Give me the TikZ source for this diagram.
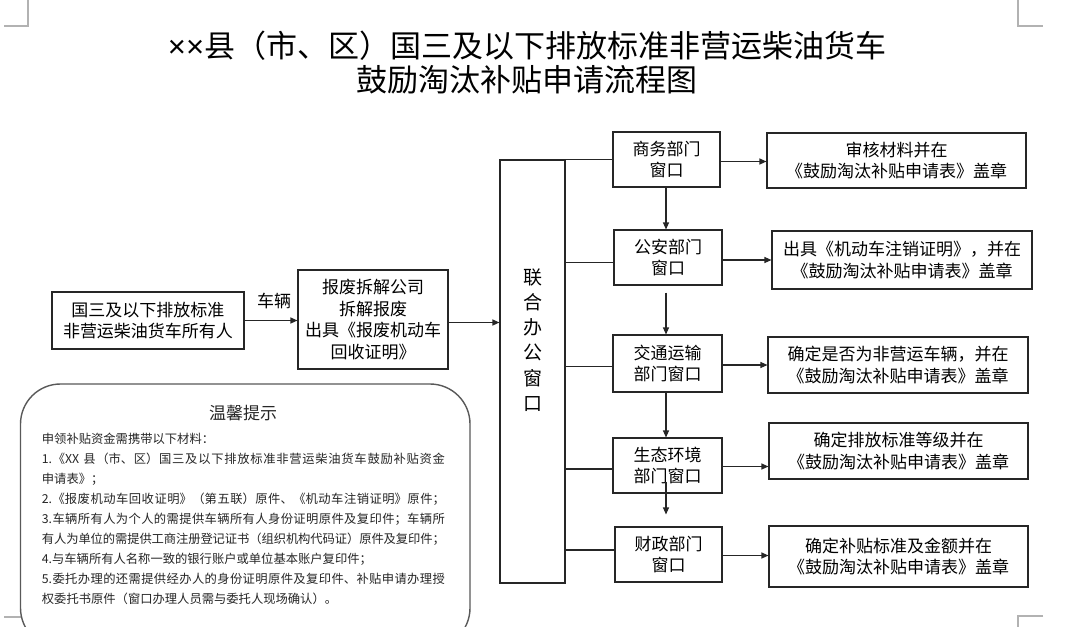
\documentclass[tikz,border=0pt]{standalone}
\usepackage{fontspec}
\setmainfont{Noto Sans CJK SC}
\newfontfamily\latinsans{Liberation Sans}
\usetikzlibrary{arrows.meta,calc}
\XeTeXlinebreaklocale "zh"
\XeTeXlinebreakskip=0pt plus 3pt minus 0.6pt
\newcommand\jline[1]{\parbox{403pt}{\parfillskip=0pt\relax #1\par}}
\begin{document}
\begin{tikzpicture}[x=1pt,y=-1pt,
  box/.style={draw=black!85, line width=1.1pt, fill=white, inner sep=0pt, align=center,
    font=\fontsize{17}{21.7}\selectfont},
  arr/.style={-{Triangle[length=7pt,width=6pt]}, draw=black!85, line width=1.1pt},
  ln/.style={draw=black!85, line width=1.1pt},
  crop/.style={draw=black!30, line width=1.2pt},
  tip/.style={anchor=west, inner sep=0pt, font=\fontsize{12.3}{14}\selectfont, text=black!85}]
\useasboundingbox[fill=white] (0,0) rectangle (1080,627);

% crop marks
\draw[crop] (28,0) -- (28,26) -- (4,26);
\draw[crop] (1018,0) -- (1018,26) -- (1043,26);
\draw[crop] (1043,616) -- (1018,616) -- (1018,627);
\draw[crop] (4,617) -- (28,617) -- (28,627);

% title
\node[font=\fontsize{31}{36}\selectfont] (t1) at (527,46) {{\latinsans ××}县（市、区）国三及以下排放标准非营运柴油货车};
\node[font=\fontsize{31}{36}\selectfont] (t2) at (527,80) {鼓励淘汰补贴申请流程图};

% left chain
\node[box, minimum width=192pt, minimum height=57pt] (owner) at (148,320.5) {国三及以下排放标准\\非营运柴油货车所有人};
\node[box, minimum width=150pt, minimum height=99pt] (scrap) at (373,319.5) {报废拆解公司\\拆解报废\\出具《报废机动车\\回收证明》};
\node[box, minimum width=65pt, minimum height=423pt] (tall) at (532.5,371.5) {};
\node[font=\fontsize{19}{25.3}\selectfont, align=center, inner sep=0pt] (talltext) at (532.5,340) {联\\合\\办\\公\\窗\\口};

% departments
\node[box, minimum width=107pt, minimum height=55pt] (com) at (666.5,159.5) {商务部门\\窗口};
\node[box, minimum width=108pt, minimum height=55pt] (pol) at (668,257.5) {公安部门\\窗口};
\node[box, minimum width=109pt, minimum height=57pt] (tra) at (667.5,363.5) {交通运输\\部门窗口};
\node[box, minimum width=109pt, minimum height=55pt] (eco) at (667.5,465.5) {生态环境\\部门窗口};
\node[box, minimum width=107pt, minimum height=55pt] (fin) at (668.5,554.5) {财政部门\\窗口};

% results
\node[box, minimum width=259pt, minimum height=55pt] (r1) at (896.5,160.5) {审核材料并在\\《鼓励淘汰补贴申请表》盖章};
\node[box, minimum width=260pt, minimum height=58pt] (r2) at (902,260) {出具《机动车注销证明》，并在\\《鼓励淘汰补贴申请表》盖章};
\node[box, minimum width=260pt, minimum height=56pt] (r3) at (898,365) {确定是否为非营运车辆，并在\\《鼓励淘汰补贴申请表》盖章};
\node[box, minimum width=259pt, minimum height=56pt] (r4) at (898.5,451) {确定排放标准等级并在\\《鼓励淘汰补贴申请表》盖章};
\node[box, minimum width=259pt, minimum height=61pt] (r5) at (898.5,556.5) {确定补贴标准及金额并在\\《鼓励淘汰补贴申请表》盖章};

% connectors left
\draw[arr] (owner.east) -- (owner.east -| scrap.west);
\node[font=\fontsize{17}{20}\selectfont, inner sep=0pt] (veh) at (274,301) {车辆};
\draw[arr] ([yshift=-3pt]scrap.east) -- ([yshift=-3pt]scrap.east -| tall.west);

% bus lines
\draw[ln] (tall.north east) -- (tall.north east -| com.west);
\draw[ln] ([yshift=-5pt]pol.west -| tall.east) -- ([yshift=-5pt]pol.west);
\draw[ln] ([yshift=-3pt]tra.west -| tall.east) -- ([yshift=-3pt]tra.west);
\draw[ln] ([yshift=-3.5pt]eco.west -| tall.east) -- ([yshift=-3.5pt]eco.west);
\draw[ln] ([yshift=4.5pt]fin.west -| tall.east) -- ([yshift=4.5pt]fin.west);

% vertical arrows
\draw[arr] (com.south -| 666,0) -- (pol.north -| 666,0);
\draw[arr, shorten <=7pt] (pol.south -| 666,0) -- (tra.north -| 666,0);
\draw[arr] (tra.south -| 666,0) -- (eco.north -| 666,0);
\draw[arr, shorten <=-12pt, shorten >=12pt] (eco.south -| 666,0) -- (fin.north -| 666,0);

% right arrows
\draw[arr] ([yshift=-2pt]com.east) -- ([yshift=-2pt]com.east -| r1.west);
\draw[arr] ([yshift=-2.5pt]pol.east) -- ([yshift=-2.5pt]pol.east -| r2.west);
\draw[arr] ([yshift=-1.5pt]tra.east) -- ([yshift=-1.5pt]tra.east -| r3.west);
\draw[arr] ([yshift=-1pt]eco.east) -- ([yshift=-1pt]eco.east -| r4.west);
\draw[arr] ([yshift=-1pt]fin.east) -- ([yshift=-1pt]fin.east -| r5.west);

% tips box
\begin{scope}
\clip (0,0) rectangle (1080,627);
\node[draw=black!65, line width=1.4pt, fill=white, rounded corners=40pt,
  minimum width=449.5pt, minimum height=264pt, inner sep=0pt] (tips) at (245.25,516) {};
\end{scope}
\node[font=\fontsize{17}{20}\selectfont, text=black!85, inner sep=0pt] (tiptitle) at (243,413) {温馨提示};
\node[tip] (l0) at (41.7,439.3) {申领补贴资金需携带以下材料：};
\node[tip] (l1) at (41.7,459.3) {\jline{1.《\mbox{XX\kern4pt}县（市、区）国三及以下排放标准非营运柴油货车鼓励补贴资金}};
\node[tip] (l2) at (41.7,479.3) {申请表》；};
\node[tip] (l3) at (41.7,499.3) {\jline{2.《报废机动车回收证明》（第五联）原件、《机动车注销证明》原件；}};
\node[tip] (l4) at (41.7,519.3) {\jline{3.车辆所有人为个人的需提供车辆所有人身份证明原件及复印件；车辆所}};
\node[tip] (l5) at (41.7,539.3) {\jline{有人为单位的需提供工商注册登记证书（组织机构代码证）原件及复印件；}};
\node[tip] (l6) at (41.7,559.3) {4.与车辆所有人名称一致的银行账户或单位基本账户复印件；};
\node[tip] (l7) at (41.7,579.3) {\jline{5.委托办理的还需提供经办人的身份证明原件及复印件、补贴申请办理授}};
\node[tip] (l8) at (41.7,599.3) {权委托书原件（窗口办理人员需与委托人现场确认）。};
\end{tikzpicture}
\end{document}
